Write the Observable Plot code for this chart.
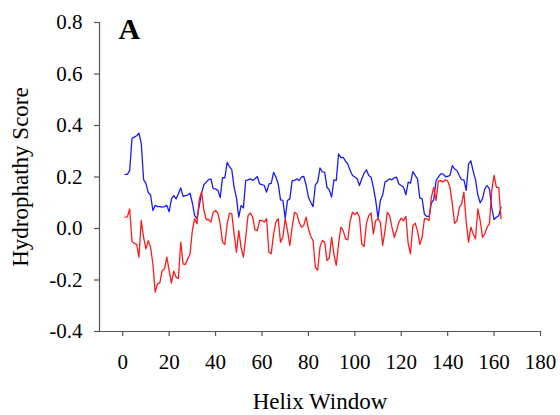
<!DOCTYPE html>
<html>
<head>
<meta charset="utf-8">
<script src="https://cdn.jsdelivr.net/npm/d3@7"></script>
<script src="https://cdn.jsdelivr.net/npm/@observablehq/plot@0.6"></script>
<style>
  html, body { margin: 0; padding: 0; background: #fff; }
  #chart { width: 560px; height: 415px; }
  #chart svg, #chart svg text { font-family: "Liberation Serif", "Times New Roman", serif; }
</style>
</head>
<body>
<div id="chart"></div>
<script>
// Hydropathy score per helix window, two profiles
const blueScores = [
  0.21, 0.21, 0.225, 0.35, 0.355, 0.36, 0.37, 0.33, 0.19, 0.175,
  0.14, 0.13, 0.07, 0.09, 0.085, 0.085, 0.083, 0.085, 0.09, 0.065,
  0.115, 0.128, 0.115, 0.135, 0.158, 0.125, 0.128, 0.13, 0.137, 0.1,
  0.05, 0.038, 0.09, 0.14, 0.17, 0.18, 0.19, 0.193, 0.155, 0.154,
  0.148, 0.12, 0.197, 0.197, 0.257, 0.24, 0.228, 0.16, 0.12, 0.044,
  0.089, 0.08, 0.186, 0.189, 0.193, 0.186, 0.193, 0.202, 0.173, 0.17,
  0.167, 0.141, 0.173, 0.175, 0.218, 0.2, 0.173, 0.111, 0.109, 0.04,
  0.109, 0.115, 0.186, 0.186, 0.193, 0.186, 0.2, 0.202, 0.17, 0.122,
  0.102, 0.085, 0.17, 0.18, 0.235, 0.22, 0.219, 0.16, 0.15, 0.122,
  0.189, 0.186, 0.29, 0.275, 0.276, 0.262, 0.25, 0.225, 0.206, 0.2,
  0.193, 0.167, 0.193, 0.215, 0.228, 0.206, 0.199, 0.16, 0.109, 0.04,
  0.109, 0.13, 0.18, 0.186, 0.193, 0.189, 0.197, 0.199, 0.173, 0.167,
  0.16, 0.131, 0.18, 0.176, 0.221, 0.206, 0.193, 0.119, 0.115, 0.055,
  0.047, 0.047, 0.1, 0.111, 0.186, 0.2, 0.212, 0.212, 0.202, 0.202,
  0.206, 0.244, 0.231, 0.225, 0.206, 0.19, 0.189, 0.148, 0.25, 0.263,
  0.222, 0.19, 0.13, 0.1, 0.115, 0.154, 0.167, 0.154, 0.08, 0.035,
  0.044, 0.05, 0.083
];

const redScores = [
  0.044, 0.045, 0.076, -0.05, -0.058, -0.062, -0.111, 0.031, -0.034, -0.079,
  -0.047, -0.073, -0.137, -0.247, -0.215, -0.21, -0.163, -0.157, -0.111, -0.163,
  -0.212, -0.166, -0.189, -0.194, -0.053, -0.137, -0.14, -0.118, -0.1, -0.008,
  0.038, 0.018, 0.115, 0.141, 0.07, 0.035, 0.035, 0.025, 0.063, 0.07,
  0.06, 0.018, -0.053, -0.062, 0.018, 0.06, 0.057, -0.021, -0.092, -0.008,
  -0.073, -0.111, -0.034, 0.05, 0.06, 0.044, -0.005, -0.008, 0.031, 0.031,
  0.025, 0.038, -0.092, -0.098, -0.021, 0.025, 0.038, -0.053, -0.034, 0.038,
  -0.008, -0.066, 0.005, 0.063, 0.057, 0.025, 0.005, 0.012, 0.044, 0.0,
  -0.03, -0.047, -0.15, -0.162, -0.072, -0.047, -0.053, -0.124, -0.115, -0.034,
  -0.1, -0.143, -0.06, 0.005, -0.008, -0.04, -0.044, 0.03, 0.063, 0.054,
  0.063, 0.044, -0.06, -0.07, 0.02, 0.05, 0.06, -0.021, 0.031, 0.038,
  0.025, -0.066, -0.008, 0.063, 0.05, 0.005, -0.034, -0.008, 0.025, 0.04,
  0.03, 0.047, -0.06, -0.098, 0.01, 0.021, -0.008, -0.062, -0.034, 0.038,
  0.038, 0.031, 0.122, 0.16, 0.109, 0.185, 0.186, 0.18, 0.189, 0.185,
  0.16, 0.096, 0.02, 0.03, 0.08, 0.096, 0.141, 0.025, -0.053, 0.005,
  -0.021, -0.04, 0.076, 0.031, -0.034, -0.021, 0.005, 0.018, 0.148, 0.206,
  0.16, 0.16, 0.038
];

const xTicks = [0, 20, 40, 60, 80, 100, 120, 140, 160, 180];
const yTicks = [-0.4, -0.2, 0.0, 0.2, 0.4, 0.6, 0.8];
const panelLabel = "A";
const xTitle = "Helix Window";
const yTitle = "Hydrophathy Score";

// one row per helix window (windows are numbered from 1)
const rows = blueScores.map((b, i) => ({win: i + 1, blue: b, red: redScores[i]}));

const axisColor = "#555";
const serif = "Liberation Serif";

const chart = Plot.plot({
  width: 560,
  height: 415,
  marginLeft: 99,
  marginRight: 20,
  marginTop: 22,
  marginBottom: 84,
  style: {background: "#fff", color: "#000"},
  x: {domain: [-10, 180]},
  y: {domain: [-0.4, 0.8]},
  marks: [
    // axis lines
    Plot.ruleX([-10], {y1: -0.4, y2: 0.8, stroke: axisColor, strokeWidth: 1.2}),
    Plot.ruleY([-0.4], {x1: -10, x2: 180, stroke: axisColor, strokeWidth: 1.2}),
    Plot.axisX({
      ticks: xTicks, tickSize: 5, tickPadding: 18, fontSize: 21, fontFamily: serif,
      stroke: axisColor, strokeWidth: 1.2, label: null
    }),
    Plot.axisY({
      ticks: yTicks, tickSize: 5, tickPadding: 12, fontSize: 21, fontFamily: serif,
      tickFormat: d => d.toFixed(1),
      stroke: axisColor, strokeWidth: 1.2, label: null
    }),
    // axis titles
    Plot.text([xTitle], {
      frameAnchor: "bottom", dy: 70, lineAnchor: "middle", textAnchor: "middle",
      fontSize: 23, fontFamily: serif, fill: "#000"
    }),
    Plot.text([yTitle], {
      frameAnchor: "left", dx: -79, rotate: -90, lineAnchor: "middle", textAnchor: "middle",
      fontSize: 23, fontFamily: serif, fill: "#000"
    }),
    Plot.lineY(rows, {x: "win", y: "blue", stroke: "#1a1aff", strokeWidth: 1.3}),
    Plot.lineY(rows, {x: "win", y: "red", stroke: "#ff1a1a", strokeWidth: 1.3}),
    Plot.text([panelLabel], {
      frameAnchor: "top-left", dx: 19, dy: -5, fontSize: 30, fontWeight: "bold",
      fontFamily: serif, lineAnchor: "top", fill: "#000"
    })
  ]
});

document.getElementById("chart").appendChild(chart);
</script>
</body>
</html>
